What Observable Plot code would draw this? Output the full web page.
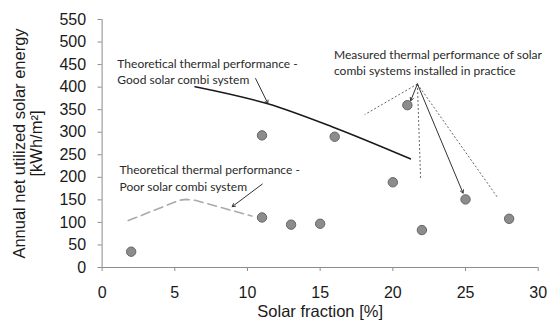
<!DOCTYPE html>
<html>
<head>
<meta charset="utf-8">
<script src="https://cdn.jsdelivr.net/npm/d3@7"></script>
<script src="https://cdn.jsdelivr.net/npm/@observablehq/plot@0.6"></script>
<style>
  html, body { margin: 0; padding: 0; background: #fff; }
  #chart svg { display: block; }
</style>
</head>
<body>
<div id="chart"></div>
<script>
// Measured systems
const measuredX = [2, 11, 11, 13, 15, 16, 20, 21, 22, 25, 28];
const measuredY = [35, 293, 111, 95, 97, 290, 189, 360, 83, 151, 108];
// Theoretical: good solar combi system
const goodX = [6.4, 11.4, 15.9, 21.2];
const goodY = [401, 363, 311, 241];
// Theoretical: poor solar combi system
const poorX = [1.8, 5.3, 5.8, 6.4, 10.3];
const poorY = [104, 149, 151, 149, 114];
// Ticks
const xTicks = [0, 5, 10, 15, 20, 25, 30];
const yTicks = [0, 50, 100, 150, 200, 250, 300, 350, 400, 450, 500, 550];
// Annotation labels
const labelText = [
  "Theoretical thermal performance -\nGood solar combi system",
  "Theoretical thermal performance -\nPoor solar combi system",
  "Measured thermal performance of solar\ncombi systems installed in practice"
];
const labelX = [1.05, 1.2, 15.95];
const labelY = [437, 200, 456];
// Solid arrows
const arrowX1 = [10.56, 11.02, 21.69, 21.69];
const arrowY1 = [419, 185, 407, 407];
const arrowX2 = [11.4, 8.95, 21.23, 24.83];
const arrowY2 = [364, 135, 370, 165];
// Dotted leader lines
const dotX1 = [21.69, 21.69, 21.69];
const dotY1 = [407, 407, 407];
const dotX2 = [18.06, 21.91, 27.19];
const dotY2 = [339, 197, 156];

const pts = measuredX.map((x, i) => ({x, y: measuredY[i]}));
const good = goodX.map((x, i) => ({x, y: goodY[i]}));
const poor = poorX.map((x, i) => ({x, y: poorY[i]}));
const labels = labelText.map((t, i) => ({t, x: labelX[i], y: labelY[i]}));
const arrows = arrowX1.map((x1, i) => ({x1, y1: arrowY1[i], x2: arrowX2[i], y2: arrowY2[i]}));
const dots = dotX1.map((x1, i) => ({x1, y1: dotY1[i], x2: dotX2[i], y2: dotY2[i]}));

const axisFont = "Liberation Sans, Arial, sans-serif";
const noteFont = "Lato, sans-serif";

const chart = Plot.plot({
  width: 548,
  height: 327,
  marginLeft: 101.6,
  marginRight: 10.3,
  marginTop: 19,
  marginBottom: 60,
  style: {fontFamily: axisFont, background: "#fff"},
  x: {domain: [0, 30]},
  y: {domain: [0, 550]},
  marks: [
    Plot.ruleX([0], {stroke: "#8c8c8c", strokeWidth: 1}),
    Plot.ruleY([0], {stroke: "#8c8c8c", strokeWidth: 1}),
    Plot.axisX(xTicks, {anchor: "bottom", tickSize: 4, tickPadding: 15, stroke: "#8c8c8c", fill: "#1a1a1a", fontSize: 16, label: null}),
    Plot.axisY(yTicks, {anchor: "left", tickSize: 4, tickPadding: 12, stroke: "#8c8c8c", fill: "#1a1a1a", fontSize: 16, label: null}),
    Plot.text(["Annual net utilized solar energy"], {frameAnchor: "left", dx: -82, rotate: -90, fontSize: 16.5, fill: "#1a1a1a", textAnchor: "middle"}),
    Plot.text(["[kWh/m²]"], {frameAnchor: "left", dx: -65, rotate: -90, fontSize: 16.5, fill: "#1a1a1a", textAnchor: "middle"}),
    Plot.text(["Solar fraction [%]"], {frameAnchor: "bottom", dy: 49, fontSize: 16.5, fill: "#1a1a1a"}),
    Plot.line(poor, {x: "x", y: "y", stroke: "#aaaaaa", strokeWidth: 1.6, strokeDasharray: "9,5"}),
    Plot.line(good, {x: "x", y: "y", curve: "monotone-x", stroke: "#1a1a1a", strokeWidth: 1.6}),
    Plot.link(dots, {x1: "x1", y1: "y1", x2: "x2", y2: "y2", stroke: "#555", strokeWidth: 0.9, strokeDasharray: "2,2"}),
    Plot.arrow(arrows, {x1: "x1", y1: "y1", x2: "x2", y2: "y2", stroke: "#333", strokeWidth: 1, headLength: 5, inset: 0}),
    Plot.dot(pts, {x: "x", y: "y", r: 4.7, fill: "#8c8c8c", stroke: "#666", strokeWidth: 1}),
    Plot.text(labels, {x: "x", y: "y", text: "t", textAnchor: "start", lineAnchor: "middle", lineHeight: 1.35, fontSize: 12, fontFamily: noteFont, fill: "#2a2a2a"})
  ]
});
document.getElementById("chart").appendChild(chart);
</script>
</body>
</html>
